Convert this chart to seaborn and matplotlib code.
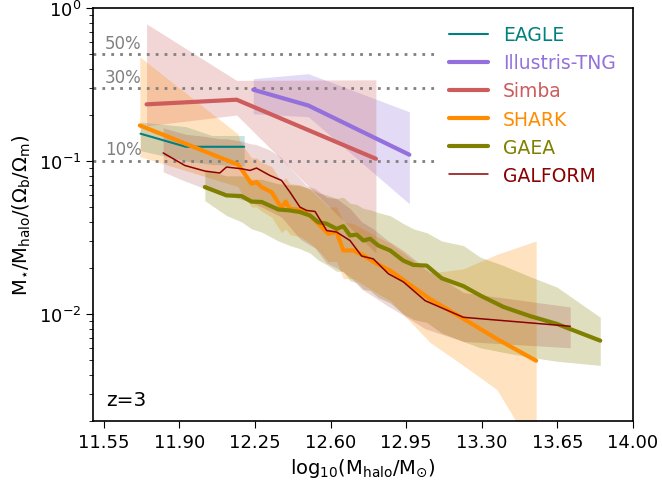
import numpy as np
import pandas as pd
import matplotlib
matplotlib.use("Agg")
import matplotlib.pyplot as plt
import seaborn as sns

sns.set_style("ticks", {"axes.edgecolor": "black", "text.color": "black",
                        "xtick.color": "black", "ytick.color": "black",
                        "axes.labelcolor": "black"})
plt.rcParams['font.family'] = ['DejaVu Sans']
plt.rcParams['mathtext.fontset'] = 'dejavusans'

# ---- stellar-to-halo mass ratio, z=3 ----
eagle_x = [11.72, 11.93, 12.05, 12.20]
eagle_med = [0.151, 0.124, 0.124, 0.124]
eagle_lo = [0.117, 0.100, 0.095, 0.093]
eagle_hi = [0.180, 0.168, 0.147, 0.147]

tng_x = [12.242, 12.497, 12.965]
tng_med = [0.293, 0.231, 0.110]
tng_lo = [0.204, 0.195, 0.0525]
tng_hi = [0.346, 0.373, 0.210]

simba_x = [11.748, 12.165, 12.81]
simba_med = [0.235, 0.252, 0.1035]
simba_lo = [0.17, 0.20, 0.025]
simba_hi = [0.79, 0.337, 0.34]

shark_x = [11.717, 12.172, 12.18, 12.234, 12.257, 12.28, 12.327, 12.373, 12.392,
           12.412, 12.458, 12.505, 12.543, 12.59, 12.628, 12.659, 12.705, 12.752,
           12.814, 12.876, 13.061, 13.215, 13.37, 13.552]
shark_med = [0.171, 0.0946, 0.0914, 0.071, 0.0729, 0.0676, 0.0626, 0.0492, 0.0543,
             0.0487, 0.048, 0.044, 0.0389, 0.0334, 0.0343, 0.026, 0.026, 0.0241,
             0.0213, 0.0192, 0.0125, 0.0093, 0.00686, 0.00494]
shark_lo = [0.107, 0.068, 0.064, 0.050, 0.050, 0.047, 0.043, 0.034, 0.036,
            0.033, 0.032, 0.029, 0.026, 0.022, 0.022, 0.017, 0.017, 0.0155,
            0.0137, 0.0122, 0.0065, 0.0046, 0.0032, 0.0012]
shark_hi = [0.48, 0.150, 0.135, 0.105, 0.105, 0.098, 0.092, 0.073, 0.078,
            0.071, 0.070, 0.065, 0.058, 0.050, 0.050, 0.040, 0.039, 0.036,
            0.032, 0.029, 0.0185, 0.0197, 0.0245, 0.030]

gaea_x = [12.018, 12.118, 12.188, 12.234, 12.281, 12.358, 12.412, 12.458, 12.505,
          12.543, 12.582, 12.628, 12.659, 12.69, 12.721, 12.752, 12.783, 12.821,
          12.876, 12.937, 12.984, 13.045, 13.115, 13.215, 13.293, 13.401, 13.525,
          13.648, 13.849]
gaea_med = [0.0676, 0.0596, 0.0590, 0.0543, 0.054, 0.0482, 0.0475, 0.0464, 0.044,
            0.0398, 0.0389, 0.036, 0.0375, 0.0326, 0.033, 0.0302, 0.031, 0.028,
            0.026, 0.0223, 0.0209, 0.0207, 0.0171, 0.0152, 0.0132, 0.0111, 0.00966,
            0.0086, 0.00668]
gaea_lo = [0.055, 0.044, 0.040, 0.036, 0.0343, 0.030, 0.028, 0.0267, 0.025,
           0.0225, 0.021, 0.019, 0.019, 0.0165, 0.016, 0.0145, 0.0142, 0.0128,
           0.0118, 0.0100, 0.0092, 0.0088, 0.0075, 0.0066, 0.0060, 0.0056, 0.0052,
           0.0049, 0.0046]
gaea_hi = [0.087, 0.080, 0.080, 0.076, 0.076, 0.071, 0.070, 0.069, 0.066,
           0.062, 0.060, 0.057, 0.058, 0.053, 0.052, 0.049, 0.048, 0.046,
           0.0439, 0.039, 0.036, 0.034, 0.030, 0.028, 0.0235, 0.0207, 0.0175,
           0.0150, 0.0095]

galform_x = [11.825, 11.925, 12.018, 12.087, 12.118, 12.188, 12.227, 12.257, 12.319,
             12.373, 12.412, 12.458, 12.489, 12.528, 12.582, 12.628, 12.69, 12.744,
             12.798, 12.868, 12.937, 13.038, 13.215, 13.71]
galform_med = [0.113, 0.0936, 0.086, 0.0835, 0.0914, 0.089, 0.0868, 0.090, 0.0805,
               0.0747, 0.0626, 0.050, 0.0475, 0.0468, 0.0351, 0.0343, 0.0302, 0.0239,
               0.0229, 0.0183, 0.0162, 0.0122, 0.0095, 0.0083]
galform_lo = [0.085, 0.074, 0.066, 0.062, 0.060, 0.056, 0.054, 0.052, 0.047,
              0.043, 0.037, 0.031, 0.029, 0.027, 0.0215, 0.020, 0.0175, 0.0145,
              0.013, 0.0112, 0.0098, 0.0080, 0.0066, 0.0060]
galform_hi = [0.165, 0.150, 0.145, 0.140, 0.140, 0.135, 0.130, 0.128, 0.118,
              0.105, 0.090, 0.077, 0.069, 0.066, 0.058, 0.0567, 0.049, 0.040,
              0.036, 0.030, 0.026, 0.020, 0.0138, 0.0111]

fractions = [0.5, 0.3, 0.1]
fraction_labels = ["50%", "30%", "10%"]

series = [
    ("EAGLE", eagle_x, eagle_med, eagle_lo, eagle_hi, "teal", 1.5, 0.22),
    ("Illustris-TNG", tng_x, tng_med, tng_lo, tng_hi, "mediumpurple", 3.0, 0.25),
    ("Simba", simba_x, simba_med, simba_lo, simba_hi, "indianred", 3.0, 0.25),
    ("SHARK", shark_x, shark_med, shark_lo, shark_hi, "darkorange", 3.0, 0.25),
    ("GAEA", gaea_x, gaea_med, gaea_lo, gaea_hi, "olive", 3.0, 0.25),
    ("GALFORM", galform_x, galform_med, galform_lo, galform_hi, "darkred", 1.1, 0.15),
]

fig = plt.figure(figsize=(6.62, 4.85), dpi=100)
ax = fig.add_axes([0.1405, 0.1305, 0.8155, 0.8505])

for name, x, med, lo, hi, col, lw, a in series:
    ax.fill_between(x, lo, hi, color=col, alpha=a, lw=0)

for name, x, med, lo, hi, col, lw, a in series:
    df = pd.DataFrame({"x": x, "y": med})
    sns.lineplot(data=df, x="x", y="y", ax=ax, color=col, lw=lw, label=name,
                 sort=False, estimator=None)

for f, lab in zip(fractions, fraction_labels):
    ax.hlines(f, 11.5, 13.1, colors="gray", linestyles=(0, (1, 2.2)), lw=2, zorder=1)
    ax.text(11.555, f * 1.04, lab, color="gray", fontsize=12, va="bottom", ha="left")

ax.set_yscale("log")
ax.set_xlim(11.5, 14.0)
ax.set_ylim(0.002, 1.0)
xt = np.round(np.arange(11.55, 14.01, 0.35), 2)
ax.set_xticks(xt)
ax.set_xticklabels([f"{t:.2f}" for t in xt])
ax.tick_params(axis="both", which="major", labelsize=13, length=5, direction="out")
ax.tick_params(axis="y", which="minor", length=3)
for s in ax.spines.values():
    s.set_visible(True)
    s.set_linewidth(1.2)
    s.set_color("black")

ax.set_xlabel(r"$\mathrm{log_{10}(M_{halo}/M_{\odot})}$", fontsize=14)
ax.set_ylabel(r"$\mathrm{M_{\star}/M_{halo}/(\Omega_b/\Omega_m)}$", fontsize=14)
ax.text(11.56, 0.0024, "z=3", fontsize=14.5, ha="left", va="bottom")

leg = ax.legend(loc="upper right", frameon=False, fontsize=13.5, labelcolor="linecolor",
                handlelength=2.1, handletextpad=0.8, labelspacing=0.49,
                bbox_to_anchor=(1.0, 1.0))

fig.savefig("out.png", dpi=100)
